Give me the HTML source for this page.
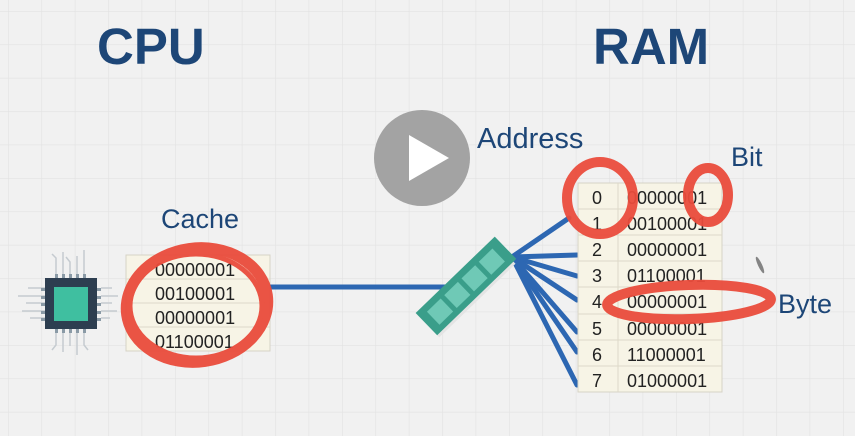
<!DOCTYPE html>
<html><head><meta charset="utf-8"><style>
html,body{margin:0;padding:0;width:855px;height:436px;overflow:hidden;background:#f0f0f0}
svg{display:block}
text{font-family:"Liberation Sans",sans-serif}
</style></head><body>
<svg width="855" height="436" viewBox="0 0 855 436">
<defs>
<pattern id="g" width="33.4" height="33.4" patternUnits="userSpaceOnUse" x="8" y="11">
<rect width="33.4" height="33.4" fill="#f1f1f1"/>
<path d="M0 0H33.4M0 0V33.4" stroke="#e2e2e2" stroke-width="1.2"/>
</pattern>
</defs>
<rect width="855" height="436" fill="url(#g)"/>
<text x="97" y="64" font-size="51" font-weight="bold" fill="#1d4677">CPU</text>
<text x="593" y="64" font-size="51" font-weight="bold" fill="#1d4677">RAM</text>
<text x="477" y="148" font-size="29" fill="#1d4677">Address</text>
<text x="731" y="166" font-size="27" fill="#1d4677">Bit</text>
<text x="778" y="313" font-size="27" fill="#1d4677">Byte</text>
<text x="161" y="228" font-size="27" fill="#1d4677">Cache</text>

<circle cx="422" cy="158" r="48" fill="#a3a3a3"/>
<path d="M409 135 L449 158 L409 181 Z" fill="#fff"/>

<!-- CPU chip -->
<g stroke="#c5cbd0" stroke-width="1.5" fill="none">
<path d="M45 288H28M45 296H18M45 303H26M45 311H22M45 318H30M56 274V258L52 254M63 274V252M70 274V262L66 257M77 274V256M84 274V250M56 333V345L52 350M63 333V352M70 333V346M77 333V355M84 333V345L88 350M101 288H112M101 296H118M101 303H112M101 311H117M101 318H110"/>
</g>
<rect x="45" y="278" width="52" height="51" fill="#2d3e50"/>
<rect x="54" y="287" width="34" height="34" fill="#3fbfa0"/>
<g fill="#8a9aa6"><rect x="41" y="288" width="4" height="3"/><rect x="41" y="296" width="4" height="3"/><rect x="41" y="303" width="4" height="3"/><rect x="41" y="311" width="4" height="3"/><rect x="41" y="318" width="4" height="3"/>
<rect x="97" y="288" width="4" height="3"/><rect x="97" y="296" width="4" height="3"/><rect x="97" y="303" width="4" height="3"/><rect x="97" y="311" width="4" height="3"/><rect x="97" y="318" width="4" height="3"/>
<rect x="55" y="274" width="3" height="4"/><rect x="62" y="274" width="3" height="4"/><rect x="69" y="274" width="3" height="4"/><rect x="76" y="274" width="3" height="4"/><rect x="83" y="274" width="3" height="4"/>
<rect x="55" y="329" width="3" height="4"/><rect x="62" y="329" width="3" height="4"/><rect x="69" y="329" width="3" height="4"/><rect x="76" y="329" width="3" height="4"/><rect x="83" y="329" width="3" height="4"/></g>

<!-- cache table -->
<rect x="126" y="255" width="144" height="96" fill="#f7f4e6" stroke="#d6d3c6"/>
<g stroke="#ddd9c9"><line x1="126" y1="279" x2="270" y2="279"/><line x1="126" y1="303" x2="270" y2="303"/><line x1="126" y1="327" x2="270" y2="327"/></g>
<g font-size="18" fill="#222"><text x="155" y="276">00000001</text><text x="155" y="300">00100001</text><text x="155" y="324">00000001</text><text x="155" y="348">01100001</text></g>

<line x1="270" y1="287" x2="445" y2="287" stroke="#2d67b2" stroke-width="5"/>
<g stroke="#2d67b2" stroke-width="5" stroke-linecap="round">
<line x1="512" y1="257" x2="569" y2="218"/><line x1="512" y1="257" x2="577" y2="255"/><line x1="512" y1="257" x2="577" y2="276"/><line x1="512" y1="257" x2="577" y2="300"/><line x1="512" y1="257" x2="577" y2="332"/><line x1="512" y1="257" x2="577" y2="352"/><line x1="512" y1="257" x2="577" y2="385"/>
</g>
<g transform="translate(467,287) rotate(-44)">
<rect x="-55" y="10" width="106" height="7" fill="#e4e4e4"/>
<rect x="-55" y="-17" width="110" height="31" fill="#3a9e8a"/>
<rect x="-46" y="-10" width="19" height="18" fill="#6fc9b6"/><rect x="-22" y="-10" width="19" height="18" fill="#6fc9b6"/><rect x="2" y="-10" width="19" height="18" fill="#6fc9b6"/><rect x="26" y="-10" width="19" height="18" fill="#6fc9b6"/>
</g>

<!-- RAM table -->
<rect x="578" y="183" width="144" height="209" fill="#f7f4e6" stroke="#d6d3c6"/>
<g stroke="#ddd9c9"><line x1="618" y1="183" x2="618" y2="392"/>
<line x1="578" y1="209" x2="722" y2="209"/><line x1="578" y1="235" x2="722" y2="235"/><line x1="578" y1="261" x2="722" y2="261"/><line x1="578" y1="287" x2="722" y2="287"/><line x1="578" y1="314" x2="722" y2="314"/><line x1="578" y1="340" x2="722" y2="340"/><line x1="578" y1="366" x2="722" y2="366"/></g>
<g font-size="18" fill="#222">
<text x="592" y="204">0</text><text x="627" y="204">00000001</text>
<text x="592" y="230">1</text><text x="627" y="230">00100001</text>
<text x="592" y="256">2</text><text x="627" y="256">00000001</text>
<text x="592" y="282">3</text><text x="627" y="282">01100001</text>
<text x="592" y="308">4</text><text x="627" y="308">00000001</text>
<text x="592" y="335">5</text><text x="627" y="335">00000001</text>
<text x="592" y="361">6</text><text x="627" y="361">11000001</text>
<text x="592" y="387">7</text><text x="627" y="387">01000001</text>
</g>

<!-- red marks -->
<g fill="none" stroke="#ea4c3c" stroke-linecap="round" opacity="0.95">
<ellipse cx="197" cy="305" rx="71" ry="57" stroke-width="11" transform="rotate(-8 197 305)"/>
<ellipse cx="196" cy="306" rx="66" ry="52" stroke-width="5"/>
<ellipse cx="600" cy="198" rx="33" ry="36" stroke-width="10"/>
<ellipse cx="708" cy="195" rx="20" ry="27" stroke-width="10"/>
<ellipse cx="689" cy="302" rx="82" ry="17" stroke-width="10" transform="rotate(-2 689 302)"/>
</g>
<ellipse cx="760" cy="265" rx="2" ry="9" fill="#555" transform="rotate(-25 760 265)" opacity="0.7"/>
</svg>
</body></html>
